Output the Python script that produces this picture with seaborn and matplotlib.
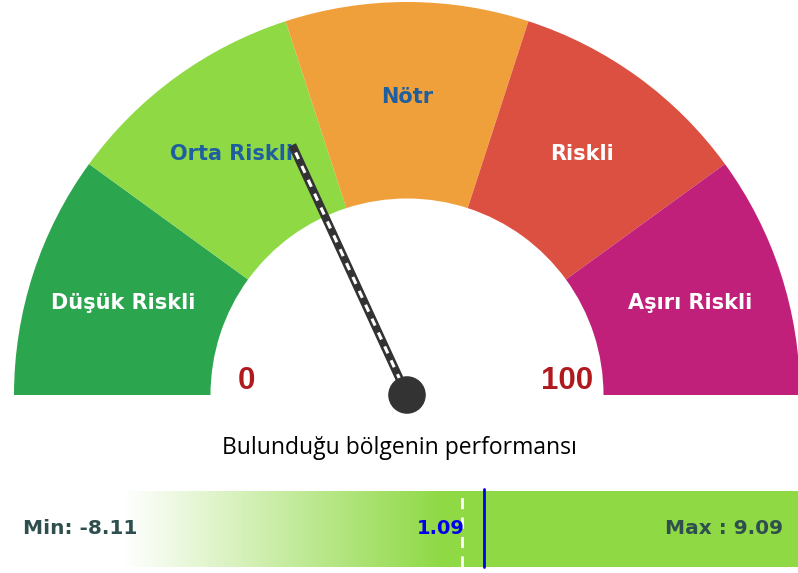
import numpy as np
import matplotlib.pyplot as plt
import seaborn as sns
from matplotlib.patches import Wedge, Circle

# Gauge data
sector_names = ["Düşük Riskli", "Orta Riskli", "Nötr", "Riskli", "Aşırı Riskli"]
sector_bounds = [0, 20, 40, 60, 80, 100]
sector_colors = ["#2ca54f", "#8fd945", "#f0a03a", "#dc5042", "#c0207a"]
label_colors = ["white", "#1f5f9f", "#1f5f9f", "white", "white"]
scale_labels = ["0", "100"]
needle_value = 36.3

# Performance bar data
bar_title = "Bulunduğu bölgenin performansı"
min_val = -8.11
max_val = 9.09
current_val = 1.09
avg_val = 0.52
gradient_end = 0.0
bar_left = -11.27


def val2angle(v):
    return np.deg2rad(180 - v * 1.8)


def main():
    sns.set_theme(style="white")
    plt.rcParams['font.family'] = ['DejaVu Sans']

    fig = plt.figure(figsize=(7.98, 5.73), dpi=100)

    # Gauge
    ax = fig.add_axes([0, 173 / 573, 1, 400 / 573])
    ax.set_xlim(-407 / 393, 391 / 393)
    ax.set_ylim(-5 / 393, 395 / 393)
    ax.axis('off')

    for i, name in enumerate(sector_names):
        lo, hi = sector_bounds[i], sector_bounds[i + 1]
        t1 = 180 - hi * 1.8
        t2 = 180 - lo * 1.8
        ax.add_patch(Wedge((0, 0), 1.0, t1, t2, width=0.5, color=sector_colors[i], lw=0))
        a = val2angle((lo + hi) / 2)
        ax.text(0.758 * np.cos(a), 0.758 * np.sin(a), name, ha='center', va='center',
                fontsize=15, fontweight='bold', color=label_colors[i])

    for lab, v in zip(scale_labels, [sector_bounds[0], sector_bounds[-1]]):
        a = val2angle(v)
        ax.text(0.408 * np.cos(a), 0.036, lab, ha='center', va='center', fontsize=22.5,
                fontweight='bold', color='#b0191e', family='Liberation Sans')

    # Needle
    a = val2angle(needle_value)
    nx, ny = 0.70 * np.cos(a), 0.70 * np.sin(a)
    ax.plot([0, nx], [0, ny], color='#333333', lw=6, solid_capstyle='butt', zorder=5)
    ax.plot([0, nx * 0.97], [0, ny * 0.97], color='white', lw=2.2,
            linestyle=(0, (2.5, 2.5)), zorder=6)
    ax.add_patch(Circle((0, 0), 0.046, color='#333333', zorder=7, clip_on=False))

    # Title of the bar
    fig.text(0.5, 1 - 448 / 573, bar_title, ha='center', va='center', fontsize=16.5,
             family='Open Sans', color='black')

    # Performance bar
    bx = fig.add_axes([0, 6 / 573, 1, 76 / 573])
    bx.set_xlim(bar_left, max_val)
    bx.set_ylim(0, 1)
    bx.axis('off')
    cmap = sns.blend_palette(["white", sector_colors[1]], as_cmap=True)
    grad = np.linspace(0, 1, 256).reshape(1, -1)
    bx.imshow(grad, extent=[min_val, gradient_end, 0, 1], cmap=cmap, aspect='auto',
              interpolation='bilinear')
    bx.axvspan(gradient_end, max_val, color=sector_colors[1], lw=0)
    bx.axvline(avg_val, color='white', lw=2, linestyle=(0, (4, 3)))
    bx.axvline(current_val, ymin=0, ymax=1.02, color='#0000ee', lw=2, clip_on=False)

    bx.text(23 / 798, 0.5, f"Min: {min_val}", transform=bx.transAxes, ha='left',
            va='center', fontsize=14.5, fontweight='bold', color='#2f4f4f')
    bx.text(783 / 798, 0.5, f"Max : {max_val}", transform=bx.transAxes, ha='right',
            va='center', fontsize=14.5, fontweight='bold', color='#2f4f4f')
    bx.annotate(f"{current_val}", xy=(current_val, 0.5), xytext=(-14, 0),
                textcoords='offset points', ha='right', va='center', fontsize=14,
                fontweight='bold', color='#0000ee')

    plt.savefig('out.png', dpi=100)


if __name__ == "__main__":
    main()
